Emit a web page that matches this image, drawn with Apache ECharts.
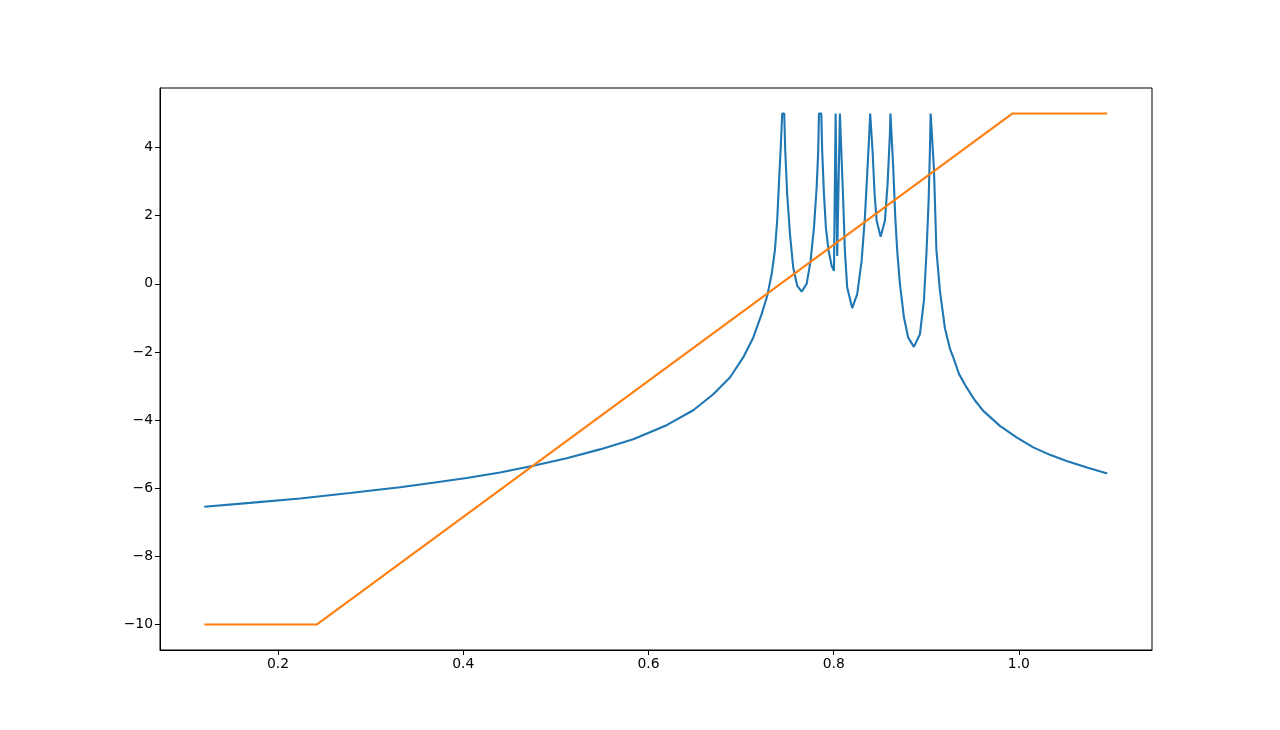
<!DOCTYPE html>
<html>
<head>
<meta charset="utf-8">
<script src="https://cdn.jsdelivr.net/npm/echarts@6/dist/echarts.min.js"></script>
<style>html,body{margin:0;padding:0;background:#fff}#c{width:1280px;height:730px}</style>
</head>
<body>
<div id="c"></div>
<script>
// Blue curve: x positions and values
const blueX = [0.1204,0.1698,0.2238,0.2777,0.3317,0.3674,0.4037,0.4397,0.4757,0.5117,0.5476,0.5836,0.6196,0.6484,0.6700,0.6880,0.7023,0.7131,0.7222,0.7283,0.7330,0.7366,0.7391,0.7412,0.7430,
  0.7444,0.7466,0.7477,0.7498,0.7528,0.7563,0.7607,0.7654,0.7708,0.7751,0.7787,0.7816,0.7833,0.7841,0.7866,0.7876,0.7895,0.7916,0.7945,0.7978,0.8003,
  0.8021,0.8032,0.8038,0.8067,0.8086,0.8103,0.8121,0.8146,0.8200,0.8254,0.8302,0.8337,0.8362,0.8384,0.8394,0.8409,0.8420,0.8442,0.8464,0.8507,0.8553,0.8582,0.8607,
  0.8613,0.8629,0.8643,0.8665,0.8686,0.8715,0.8759,0.8805,0.8866,0.8931,0.8974,0.9003,0.9025,0.9039,0.9047,0.9068,0.9082,0.9109,0.9147,0.9201,0.9255,0.9291,
  0.9354,0.9435,0.9522,0.9615,0.9795,0.9975,1.0155,1.0335,1.0515,1.0735,1.0954];
const blueY = [-6.545,-6.43,-6.30,-6.14,-5.97,-5.84,-5.70,-5.54,-5.34,-5.12,-4.86,-4.56,-4.15,-3.71,-3.24,-2.75,-2.16,-1.58,-0.89,-0.35,0.28,1.0,1.9,3.12,4.10,
  5,5,3.9,2.63,1.46,0.48,-0.06,-0.23,0.0,0.68,1.65,2.83,3.9,5,5,3.9,2.63,1.65,0.97,0.53,0.38,
  5,5,0.82,5,5,2.44,0.97,-0.11,-0.71,-0.30,0.68,1.95,3.22,4.39,5,5,3.9,2.63,1.85,1.38,1.85,2.93,4.39,
  5,5,3.41,1.95,0.97,0.0,-0.99,-1.58,-1.85,-1.48,-0.50,0.97,2.44,3.9,5,5,3.41,1.0,-0.2,-1.3,-1.9,-2.16,
  -2.65,-3.04,-3.41,-3.73,-4.17,-4.51,-4.80,-5.02,-5.20,-5.39,-5.57];
// Orange line: corner points
const orangeX = [0.1204,0.2421,0.9928,1.0954];
const orangeY = [-10,-10,5,5];
// Tick labels
const xTicks = [0.2,0.4,0.6,0.8,1.0];
const yTicks = [-10,-8,-6,-4,-2,0,2,4];

const blueData = blueX.map((x,i)=>[x,blueY[i]]);
const orangeData = orangeX.map((x,i)=>[x,orangeY[i]]);
const font = 'DejaVu Sans';
const chart = echarts.init(document.getElementById('c'));
chart.setOption({
  animation:false,
  backgroundColor:'#fff',
  grid:{left:160,right:128,top:88,bottom:80,show:true,borderColor:'#000',borderWidth:1,backgroundColor:'transparent'},
  xAxis:{type:'value',min:0.0726,max:1.1437,
    axisLine:{show:true,onZero:false,lineStyle:{color:'#000',width:1}},
    axisTick:{show:true,length:5,customValues:xTicks,lineStyle:{color:'#000'}},
    axisLabel:{customValues:xTicks,color:'#000',fontFamily:font,fontSize:13.9,margin:7,formatter:v=>v.toFixed(1)},
    splitLine:{show:false}},
  yAxis:{type:'value',min:-10.75,max:5.75,
    axisLine:{show:true,onZero:false,lineStyle:{color:'#000',width:1}},
    axisTick:{show:true,length:5,customValues:yTicks,lineStyle:{color:'#000'}},
    axisLabel:{customValues:yTicks,color:'#000',fontFamily:font,fontSize:13.9,margin:7,formatter:v=>String(v).replace('-','\u2212')},
    splitLine:{show:false}},
  series:[
    {type:'line',data:blueData,showSymbol:false,lineStyle:{color:'#1f77b4',width:2.1},z:2},
    {type:'line',data:orangeData,showSymbol:false,lineStyle:{color:'#ff7f0e',width:2.1},z:3}
  ]
});
</script>
</body>
</html>
